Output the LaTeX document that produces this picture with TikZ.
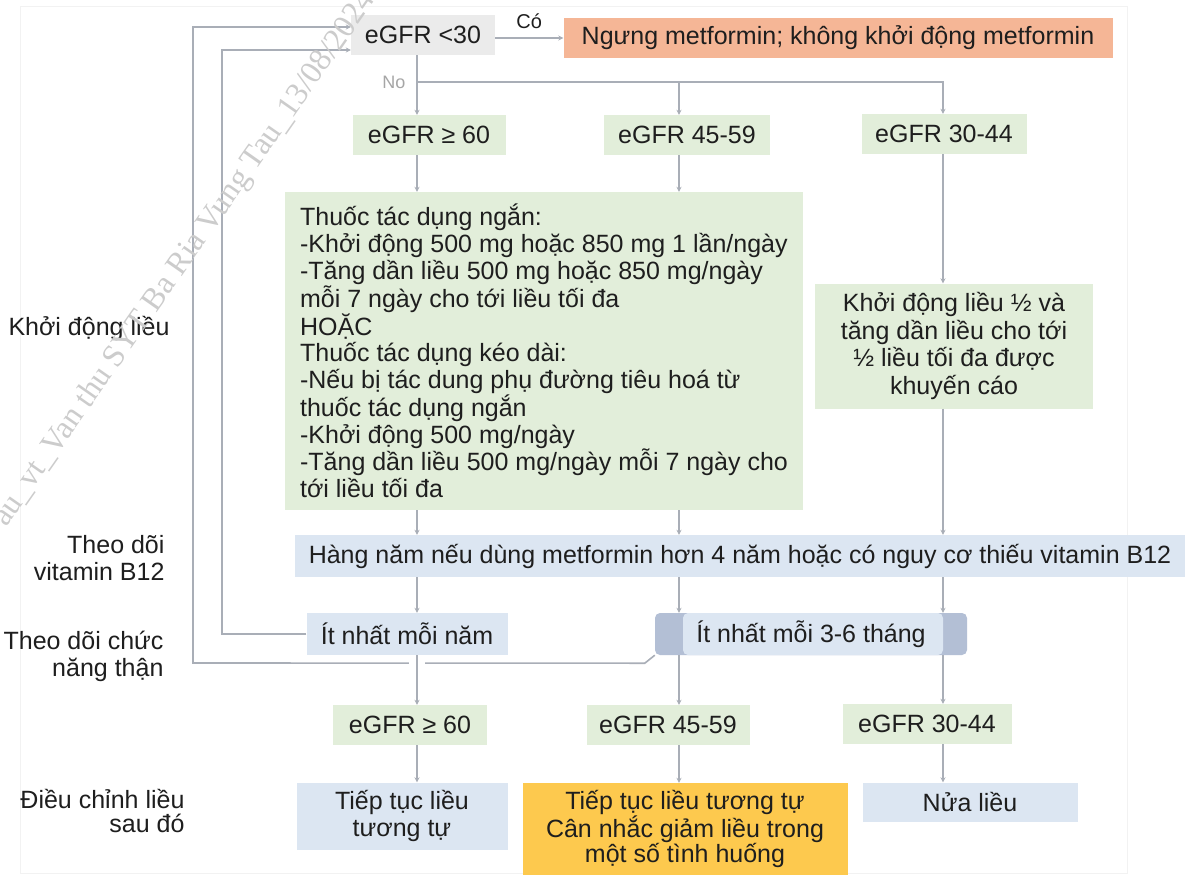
\documentclass[tikz,border=0pt]{standalone}
\usepackage{fontspec}
\setmainfont{Liberation Sans}
\newfontfamily\stampfont{Liberation Serif}
\usetikzlibrary{arrows.meta, positioning, calc}
\definecolor{linegray}{HTML}{A9AEB7}
\definecolor{greybg}{HTML}{EBEBEB}
\definecolor{salmon}{HTML}{F5B696}
\definecolor{palegreen}{HTML}{E2EEDA}
\definecolor{paleblue}{HTML}{DCE6F2}
\definecolor{capblue}{HTML}{B3BFD5}
\definecolor{amber}{HTML}{FDC94E}
\definecolor{ink}{HTML}{1E1E1E}

\begin{document}
\begin{tikzpicture}[
  x=1pt, y=-1pt,
  font=\fontsize{25}{26.7}\selectfont, text=ink,
  box/.style={inner sep=0pt, align=center, minimum height=40pt},
  greybox/.style={box, fill=greybg},
  greenbox/.style={box, fill=palegreen},
  bluebox/.style={box, fill=paleblue},
  capbox/.style={box, fill=capblue, rounded corners=5pt,
    path picture={\fill[paleblue]
      ([xshift=28pt]path picture bounding box.south west) rectangle
      ([xshift=-24pt]path picture bounding box.north east);}},
  side/.style={anchor=east, align=right},
  arr/.style={-{Stealth[length=5pt, width=5pt]}, line width=1.6pt, draw=linegray},
  wire/.style={line width=1.6pt, draw=linegray}
]
  \useasboundingbox (0,0) rectangle (1191,880);
  \fill[white] (0,0) rectangle (1191,880);
  \draw[gray!10, line width=1pt] (20,7) rectangle (1127,873);

  % columns and loop corners
  \coordinate (c1) at (417,0);
  \coordinate (c2) at (679,0);
  \coordinate (c3) at (943,0);
  \coordinate (split) at (417,82);
  \coordinate (outerbend) at (193,663);
  \coordinate (outertop) at (193,27);
  \coordinate (innerbend) at (222,634);
  \coordinate (innertop) at (222,50);

  % rows
  \node[greybox, minimum width=144pt] (lt30) at (423,35) {eGFR <30};
  \node[box, fill=salmon, minimum width=549pt] (stop) at (838,38)
    {Ngưng metformin; không khởi động metformin};

  \node[greenbox, minimum width=153pt] (gfrA) at (429,135) {eGFR ≥ 60};
  \node[greenbox, minimum width=166pt] (midA) at (687,135) {eGFR 45-59};
  \node[greenbox, minimum width=165pt] (lowA) at (944,134) {eGFR 30-44};

  \node[greenbox, align=left, minimum width=518pt, minimum height=318pt] (start) at (544,351)
    {Thuốc tác dụng ngắn:\\
     -Khởi động 500 mg hoặc 850 mg 1 lần/ngày\\
     -Tăng dần liều 500 mg hoặc 850 mg/ngày\\
     mỗi 7 ngày cho tới liều tối đa\\
     HOẶC\\
     Thuốc tác dụng kéo dài:\\
     -Nếu bị tác dung phụ đường tiêu hoá từ\\
     thuốc tác dụng ngắn\\
     -Khởi động 500 mg/ngày\\
     -Tăng dần liều 500 mg/ngày mỗi 7 ngày cho\\
     tới liều tối đa};
  \node[greenbox, minimum width=278pt, minimum height=125pt,
        font=\fontsize{25}{27.7}\selectfont] (halfstart) at (954,346)
    {Khởi động liều ½ và\\tăng dần liều cho tới\\½ liều tối đa được\\khuyến cáo};

  \node[bluebox, minimum width=890pt, minimum height=42pt] (vitB) at (740,556)
    {Hàng năm nếu dùng metformin hơn 4 năm hoặc có nguy cơ thiếu vitamin B12};

  \node[bluebox, minimum width=201pt, minimum height=42pt] (yearly) at (407,634) {Ít nhất mỗi năm};
  \node[capbox, minimum width=312pt, minimum height=42pt] (often) at (811,634) {Ít nhất mỗi 3-6 tháng};

  \node[greenbox, minimum width=154pt] (gfrB) at (410,725) {eGFR ≥ 60};
  \node[greenbox, minimum width=163pt] (midB) at (668,725) {eGFR 45-59};
  \node[greenbox, minimum width=169pt] (lowB) at (927,724) {eGFR 30-44};

  \node[bluebox, minimum width=211pt, minimum height=67pt] (same) at (402,816)
    {Tiếp tục liều\\tương tự};
  \node[box, fill=amber, minimum width=325pt, minimum height=92pt,
        font=\fontsize{25}{24.5}\selectfont] (reduce) at (685,829)
    {Tiếp tục liều tương tự\\Cân nhắc giảm liều trong\\một số tình huống};
  \node[bluebox, minimum width=215pt, minimum height=39pt] (half) at (970,802) {Nửa liều};

  % row labels
  \node[side] (lblstart) at (173,328) {Khởi động liều};
  \node[side, font=\fontsize{25}{27}\selectfont] (lblvit) at (168,558) {Theo dõi\\vitamin B12};
  \node[side, font=\fontsize{25}{27}\selectfont] (lblkid) at (167,656) {Theo dõi chức\\năng thận};
  \node[side, font=\fontsize{25}{24}\selectfont] (lbladj) at (188,811) {Điều chỉnh liều\\sau đó};

  % connectors
  \draw[arr] (lt30.east |- stop.west) -- node[above=5pt, font=\fontsize{20}{20}\selectfont] (yes) {Có} (stop.west);
  \draw[wire] (lt30.south -| c1) -- (split);
  \node[left=8pt of split, font=\fontsize{18}{18}\selectfont, text=gray!70] (no) {No};
  \draw[arr] (split) -- (gfrA.north -| c1);
  \draw[arr] (split) -| (midA.north -| c2);
  \draw[arr] (split) -| (lowA.north -| c3);

  \draw[arr] (gfrA.south -| c1) -- (start.north -| c1);
  \draw[arr] (midA.south -| c2) -- (start.north -| c2);
  \draw[arr] (lowA.south -| c3) -- (halfstart.north -| c3);

  \draw[arr] (start.south -| c1) -- (vitB.north -| c1);
  \draw[arr] (start.south -| c2) -- (vitB.north -| c2);
  \draw[arr] (halfstart.south -| c3) -- (vitB.north -| c3);

  \draw[arr] (vitB.south -| c1) -- (yearly.north -| c1);
  \draw[arr] (vitB.south -| c2) -- (often.north -| c2);
  \draw[arr] (vitB.south -| c3) -- (often.north -| c3);

  % loops back to the top
  \draw[arr] (often.south west) -- ++(-10,8) -- (outerbend) -- (outertop) -- (outertop -| lt30.west);
  \draw[arr] (yearly.west) -- (innerbend) -- (innertop) -- (innertop -| lt30.west);

  \draw[arr, preaction={draw=white, line width=16pt, -}] (yearly.south -| c1) -- (gfrB.north -| c1);
  \draw[arr] (often.south -| c2) -- (midB.north -| c2);
  \draw[arr] (often.south -| c3) -- (lowB.north -| c3);

  \draw[arr] (gfrB.south -| c1) -- (same.north -| c1);
  \draw[arr] (midB.south -| c2) -- (reduce.north -| c2);
  \draw[arr] (lowB.south -| c3) -- (half.north -| c3);

  % stamp
  \node[rotate=55, anchor=base west, inner sep=0pt, text=gray!40,
        font=\stampfont\fontsize{32}{32}\selectfont] (stamp) at (6,528)
    {au\_vt\_Van thu SYT Ba Ria Vung Tau\_13/08/2024};
\end{tikzpicture}
\end{document}
